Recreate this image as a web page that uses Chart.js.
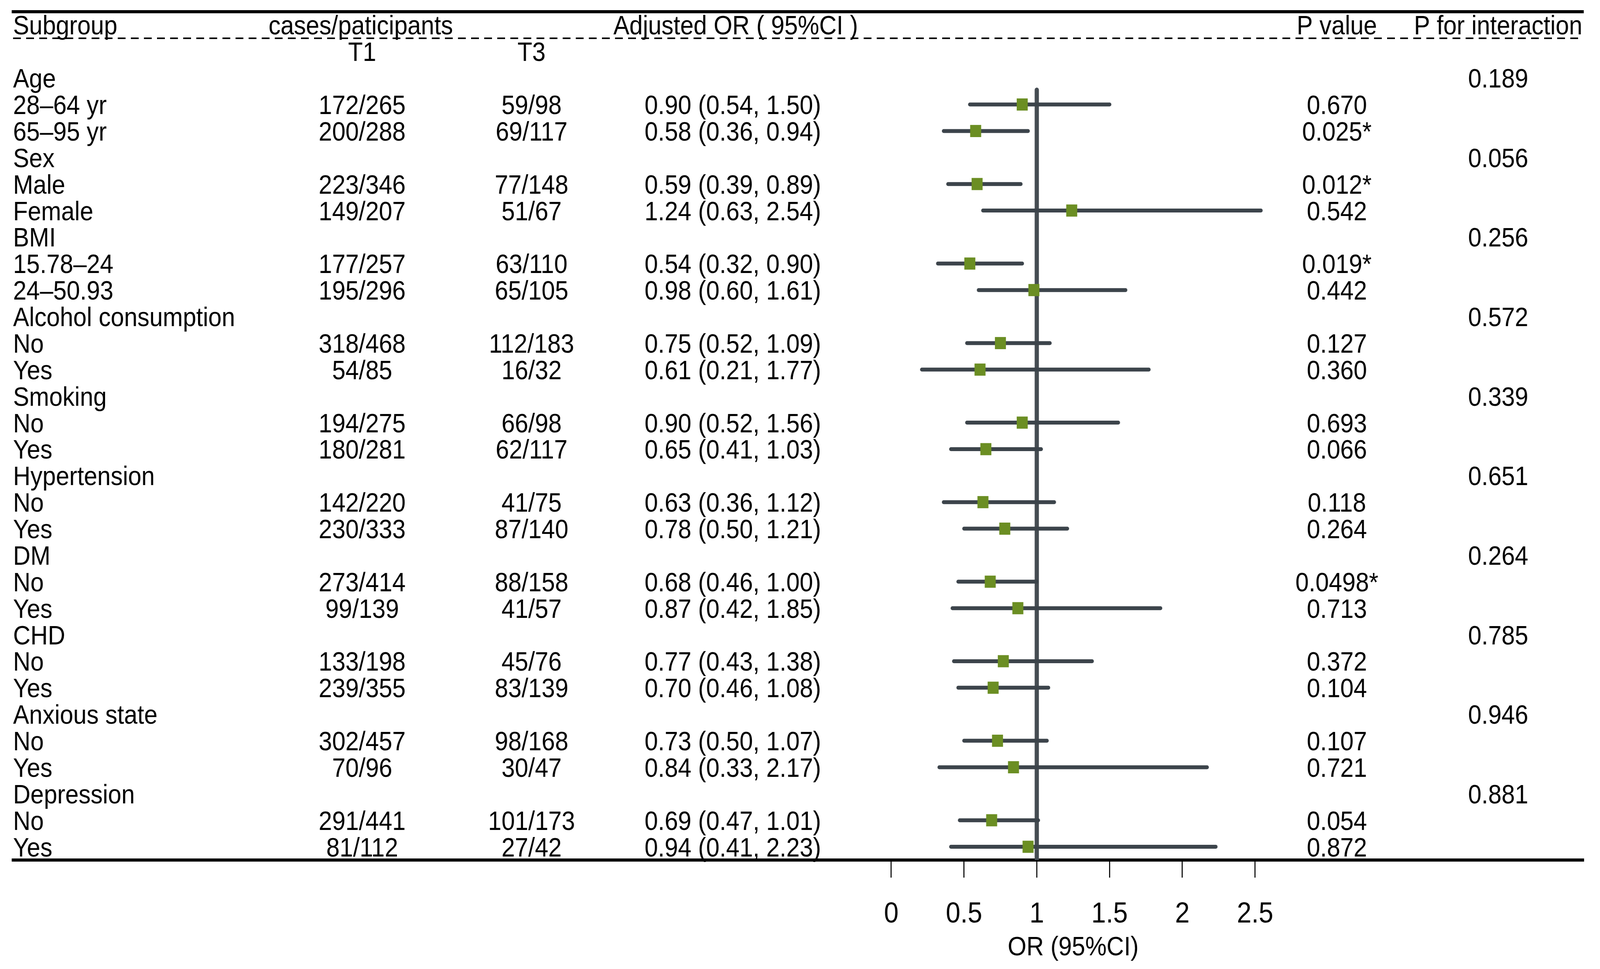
<!DOCTYPE html>
<html>
<head>
<meta charset="utf-8">
<script src="https://cdn.jsdelivr.net/npm/chart.js@4/dist/chart.umd.min.js"></script>
<style>
  html, body { margin: 0; padding: 0; background: #fff; overflow: hidden; }
  #wrap { width: 4524px; height: 2481px; transform-origin: 0 0; }
</style>
</head>
<body>
<div id="wrap"><canvas id="forest" width="4524" height="2481" style="width:4524px;height:2481px"></canvas></div>
<script>
// rows of the table (index = row on the y scale)
const subgroups = ['Age', '28–64 yr', '65–95 yr', 'Sex', 'Male', 'Female', 'BMI', '15.78–24', '24–50.93',
  'Alcohol consumption', 'No', 'Yes', 'Smoking', 'No', 'Yes', 'Hypertension', 'No', 'Yes',
  'DM', 'No', 'Yes', 'CHD', 'No', 'Yes', 'Anxious state', 'No', 'Yes', 'Depression', 'No', 'Yes'];
const casesT1 = ['', '172/265', '200/288', '', '223/346', '149/207', '', '177/257', '195/296',
  '', '318/468', '54/85', '', '194/275', '180/281', '', '142/220', '230/333',
  '', '273/414', '99/139', '', '133/198', '239/355', '', '302/457', '70/96', '', '291/441', '81/112'];
const casesT3 = ['', '59/98', '69/117', '', '77/148', '51/67', '', '63/110', '65/105',
  '', '112/183', '16/32', '', '66/98', '62/117', '', '41/75', '87/140',
  '', '88/158', '41/57', '', '45/76', '83/139', '', '98/168', '30/47', '', '101/173', '27/42'];
const oddsRatio = [null, 0.90, 0.58, null, 0.59, 1.24, null, 0.54, 0.98, null, 0.75, 0.61, null, 0.90, 0.65,
  null, 0.63, 0.78, null, 0.68, 0.87, null, 0.77, 0.70, null, 0.73, 0.84, null, 0.69, 0.94];
const ciLow = [null, 0.54, 0.36, null, 0.39, 0.63, null, 0.32, 0.60, null, 0.52, 0.21, null, 0.52, 0.41,
  null, 0.36, 0.50, null, 0.46, 0.42, null, 0.43, 0.46, null, 0.50, 0.33, null, 0.47, 0.41];
const ciHigh = [null, 1.50, 0.94, null, 0.89, 2.54, null, 0.90, 1.61, null, 1.09, 1.77, null, 1.56, 1.03,
  null, 1.12, 1.21, null, 1.00, 1.85, null, 1.38, 1.08, null, 1.07, 2.17, null, 1.01, 2.23];
const pValues = ['', '0.670', '0.025*', '', '0.012*', '0.542', '', '0.019*', '0.442', '', '0.127', '0.360',
  '', '0.693', '0.066', '', '0.118', '0.264', '', '0.0498*', '0.713', '', '0.372', '0.104',
  '', '0.107', '0.721', '', '0.054', '0.872'];
const pInteraction = ['0.189', '', '', '0.056', '', '', '0.256', '', '', '0.572', '', '', '0.339', '', '',
  '0.651', '', '', '0.264', '', '', '0.785', '', '', '0.946', '', '', '0.881', '', ''];
const xTicks = [0, 0.5, 1, 1.5, 2, 2.5];

const FONT = 'Liberation Sans, Arial, sans-serif';
const TEXT_SIZE = 68;
const W = 4524, H = 2481;
const AREA = { left: 37, right: 4477, top: 30, bottom: 2202 };
// x pixel for OR 0 and px per unit
const X0 = 2520, PX_PER_UNIT = 411.5;
const xMin = -(X0 - AREA.left) / PX_PER_UNIT;
const xMax = (AREA.right - X0) / PX_PER_UNIT;

const cols = { label: 37, t1: 1024, t3: 1503, or: 2072, p: 3780, pInt: 4236 };

// the viewport is not exactly 4524x2481 css px, so stretch the drawing onto it
const fitX = (window.innerWidth / W) || 1;
const fitY = (window.innerHeight / H) || 1;
document.getElementById('wrap').style.transform = `scale(${fitX}, ${fitY})`;

// 表のテキストを描くプラグイン
const tableText = {
  id: 'tableText',
  afterDraw(chart) {
    const ctx = chart.ctx;
    const y = chart.scales.y;
    const x = chart.scales.x;
    ctx.save();
    ctx.fillStyle = '#000';
    ctx.font = `${TEXT_SIZE}px ${FONT}`;
    ctx.textBaseline = 'alphabetic';
    const base = v => y.getPixelForValue(v) + TEXT_SIZE * 0.36;
    const put = (txt, px, v, align) => {
      if (!txt) return;
      ctx.textAlign = align;
      ctx.fillText(txt, px, base(v));
    };

    // headers
    put('Subgroup', cols.label, -2, 'left');
    put('cases/paticipants', 1020, -2, 'center');
    put('Adjusted OR ( 95%CI )', 2080, -2, 'center');
    put('P value', cols.p, -2, 'center');
    put('P for interaction', cols.pInt, -2, 'center');
    put('T1', cols.t1, -1, 'center');
    put('T3', cols.t3, -1, 'center');

    subgroups.forEach((s, i) => {
      put(s, cols.label, i, 'left');
      put(casesT1[i], cols.t1, i, 'center');
      put(casesT3[i], cols.t3, i, 'center');
      if (oddsRatio[i] != null) {
        const txt = `${oddsRatio[i].toFixed(2)} (${ciLow[i].toFixed(2)}, ${ciHigh[i].toFixed(2)})`;
        put(txt, cols.or, i, 'center');
      }
      put(pValues[i], cols.p, i, 'center');
      put(pInteraction[i], cols.pInt, i, 'center');
    });

    // dashed line under the header
    ctx.strokeStyle = '#000';
    ctx.lineWidth = 4;
    ctx.setLineDash([22, 15]);
    const dy = y.getPixelForValue(-1.5);
    ctx.beginPath();
    ctx.moveTo(AREA.left, dy);
    ctx.lineTo(AREA.right, dy);
    ctx.stroke();
    ctx.setLineDash([]);

    // axis title centred under the tick range
    ctx.textAlign = 'center';
    ctx.textBaseline = 'middle';
    ctx.font = `${TEXT_SIZE}px ${FONT}`;
    ctx.fillText('OR (95%CI)', x.getPixelForValue(1.25), 2427);
    ctx.restore();
  }
};

const ciDatasets = subgroups.map((_, i) => oddsRatio[i] == null ? null : {
  type: 'scatter',
  showLine: true,
  data: [{ x: ciLow[i], y: i }, { x: ciHigh[i], y: i }],
  borderColor: '#3c444b',
  borderWidth: 10,
  borderCapStyle: 'round',
  pointRadius: 0,
  order: 1
}).filter(Boolean);

const markers = {
  type: 'scatter',
  data: subgroups.map((_, i) => oddsRatio[i] == null ? null : { x: oddsRatio[i], y: i }).filter(Boolean),
  pointStyle: 'rect',
  pointRadius: 22,
  backgroundColor: '#6b8e23',
  borderWidth: 0,
  order: 0
};

const refLine = {
  type: 'scatter',
  showLine: true,
  data: [{ x: 1, y: 0.45 }, { x: 1, y: 29.5 }],
  borderColor: '#454c52',
  borderWidth: 12,
  borderCapStyle: 'round',
  pointRadius: 0,
  order: 2
};

new Chart(document.getElementById('forest'), {
  type: 'scatter',
  data: { datasets: [markers, ...ciDatasets, refLine] },
  options: {
    responsive: false,
    devicePixelRatio: 1,
    animation: false,
    layout: { padding: { left: AREA.left, right: W - AREA.right, top: 0, bottom: 0 } },
    plugins: { legend: { display: false }, tooltip: { enabled: false } },
    scales: {
      x: {
        type: 'linear',
        position: 'bottom',
        min: xMin,
        max: xMax,
        afterBuildTicks: s => { s.ticks = xTicks.map(v => ({ value: v })); },
        afterFit: s => { s.height = H - AREA.bottom; },
        ticks: {
          autoSkip: false,
          maxRotation: 0,
          color: '#000',
          padding: 50,
          font: { family: FONT, size: 74 },
          callback: v => String(v)
        },
        grid: {
          drawOnChartArea: false,
          drawTicks: true,
          tickLength: 45,
          tickWidth: 3,
          tickColor: '#000',
          color: '#000',
          lineWidth: 3
        },
        border: { display: true, width: 8, color: '#000' },
        title: { display: false }
      },
      xt: {
        type: 'linear',
        position: 'top',
        min: xMin,
        max: xMax,
        afterFit: s => { s.height = AREA.top; },
        ticks: { display: false },
        grid: { display: false },
        border: { display: true, width: 8, color: '#000' }
      },
      y: {
        type: 'linear',
        display: false,
        reverse: true,
        min: -2.5,
        max: 29.5
      }
    }
  },
  plugins: [tableText]
});
</script>
</body>
</html>
